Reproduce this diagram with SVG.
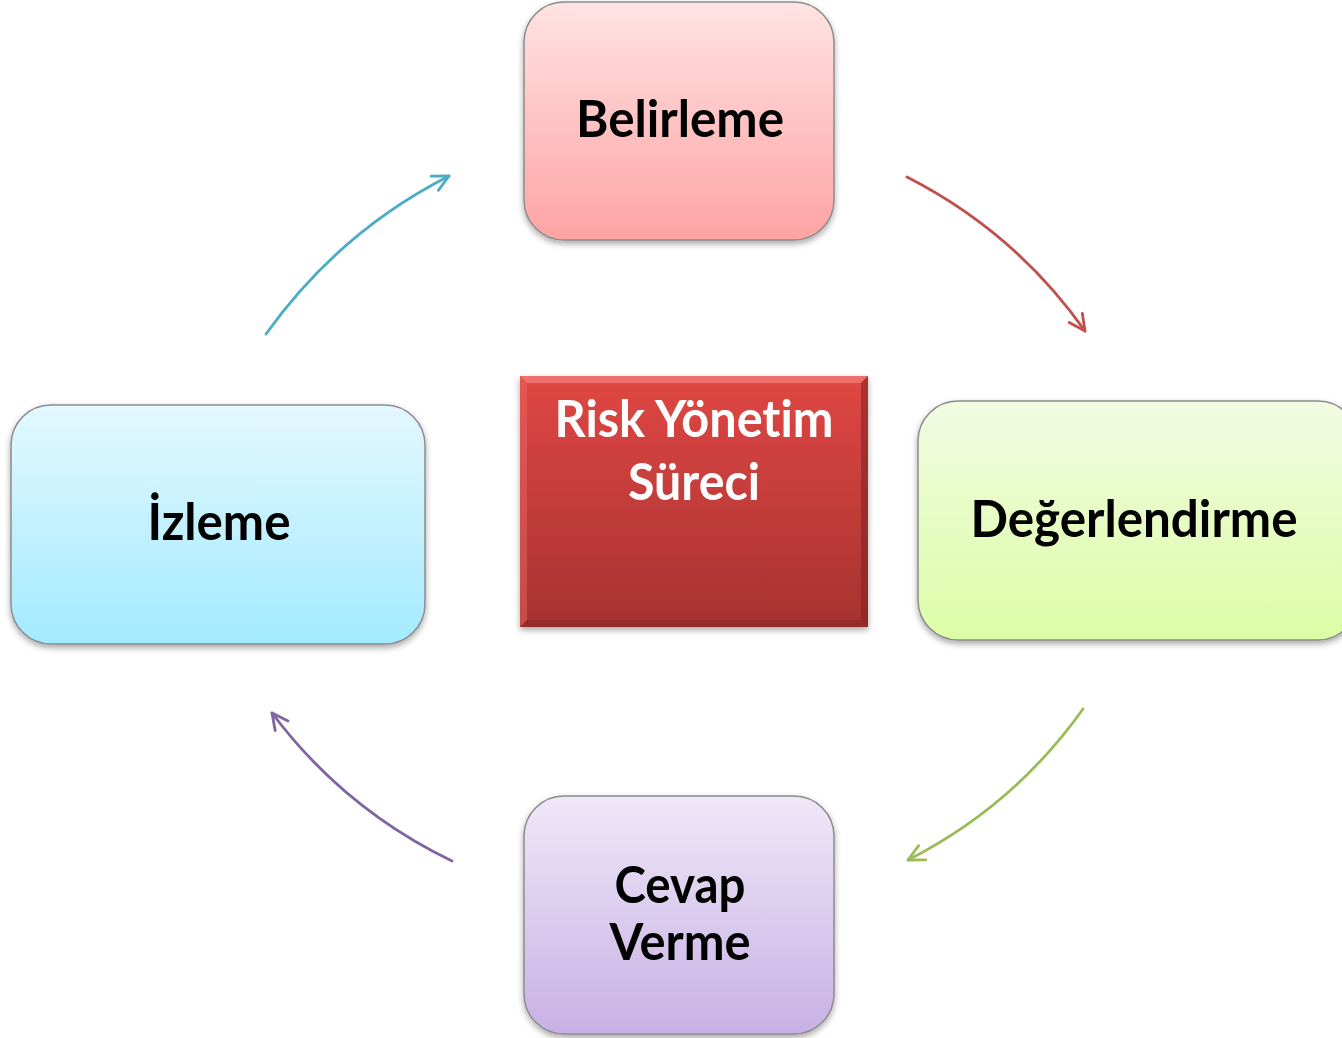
<svg xmlns="http://www.w3.org/2000/svg" width="1342" height="1038" viewBox="0 0 1342 1038">
  <style>
    .lbl { font-family: Lato, "Open Sans", "DejaVu Sans", sans-serif; font-weight: 700; font-size: 52px; fill: #000; text-anchor: middle; font-variant-ligatures: none; font-feature-settings: "liga" 0; }
    .lbl-w { fill: #fff; }
    .box { stroke: #8c8c8c; stroke-width: 1.5; filter: url(#shadow); }
    .link { fill: none; stroke-width: 2.8; stroke-linecap: round; }
  </style>
  <defs>
    <filter id="shadow" x="-10%" y="-10%" width="120%" height="125%">
      <feDropShadow dx="0" dy="3" stdDeviation="3" flood-color="#000" flood-opacity="0.35"/>
    </filter>
    <linearGradient id="gPink" x1="0" y1="0" x2="0" y2="1">
      <stop offset="0" stop-color="#ffe3e3"/>
      <stop offset="1" stop-color="#ffa3a3"/>
    </linearGradient>
    <linearGradient id="gGreen" x1="0" y1="0" x2="0" y2="1">
      <stop offset="0" stop-color="#f1fbe2"/>
      <stop offset="1" stop-color="#dcfda6"/>
    </linearGradient>
    <linearGradient id="gBlue" x1="0" y1="0" x2="0" y2="1">
      <stop offset="0" stop-color="#e4f8ff"/>
      <stop offset="1" stop-color="#a3eaff"/>
    </linearGradient>
    <linearGradient id="gPurple" x1="0" y1="0" x2="0" y2="1">
      <stop offset="0" stop-color="#efe8f8"/>
      <stop offset="1" stop-color="#c8b0e4"/>
    </linearGradient>
    <linearGradient id="gRed" x1="0" y1="0" x2="0" y2="1">
      <stop offset="0" stop-color="#e04744"/>
      <stop offset="1" stop-color="#a63230"/>
    </linearGradient>
    <marker id="headBlue" viewBox="0 0 20 20" refX="18" refY="10" markerWidth="20" markerHeight="20" markerUnits="userSpaceOnUse" orient="auto">
      <path d="M2,2 L18,10 L2,18" fill="none" stroke="#4bacc6" stroke-width="2.8" stroke-linecap="round" stroke-linejoin="round"/>
    </marker>
    <marker id="headRed" viewBox="0 0 20 20" refX="18" refY="10" markerWidth="20" markerHeight="20" markerUnits="userSpaceOnUse" orient="auto">
      <path d="M2,2 L18,10 L2,18" fill="none" stroke="#c0504d" stroke-width="2.8" stroke-linecap="round" stroke-linejoin="round"/>
    </marker>
    <marker id="headGreen" viewBox="0 0 20 20" refX="18" refY="10" markerWidth="20" markerHeight="20" markerUnits="userSpaceOnUse" orient="auto">
      <path d="M2,2 L18,10 L2,18" fill="none" stroke="#9bbb59" stroke-width="2.8" stroke-linecap="round" stroke-linejoin="round"/>
    </marker>
    <marker id="headPurple" viewBox="0 0 20 20" refX="18" refY="10" markerWidth="20" markerHeight="20" markerUnits="userSpaceOnUse" orient="auto">
      <path d="M2,2 L18,10 L2,18" fill="none" stroke="#8064a2" stroke-width="2.8" stroke-linecap="round" stroke-linejoin="round"/>
    </marker>
  </defs>

  <rect width="1342" height="1038" fill="#fff"/>

  <!-- cycle connectors -->
  <g id="connectors">
    <path class="link" stroke="#4bacc6" marker-end="url(#headBlue)" d="M266,334 Q339,232 449,176"/>
    <path class="link" stroke="#c0504d" marker-end="url(#headRed)" d="M907,177 Q1015,232 1085,331"/>
    <path class="link" stroke="#9bbb59" marker-end="url(#headGreen)" d="M1083,709 Q1014,806 908,860"/>
    <path class="link" stroke="#8064a2" marker-end="url(#headPurple)" d="M452,861 Q344,809 272,713"/>
  </g>

  <!-- centre box with bevelled edges -->
  <g id="node-center">
    <rect x="520" y="376" width="348" height="251" fill="url(#gRed)" filter="url(#shadow)"/>
    <polygon points="520,376 868,376 861,383 527,383" fill="#f07a76" opacity="0.8"/>
    <polygon points="868,376 868,627 861,620 861,383" fill="#7e2220" opacity="0.55"/>
    <polygon points="520,627 868,627 861,620 527,620" fill="#7e2220" opacity="0.45"/>
    <polygon points="520,376 527,383 527,620 520,627" fill="#e86560" opacity="0.5"/>
    <text class="lbl lbl-w" x="694" y="437" textLength="279" lengthAdjust="spacingAndGlyphs">Risk Yönetim</text>
    <text class="lbl lbl-w" x="694" y="500" textLength="132" lengthAdjust="spacingAndGlyphs">Süreci</text>
  </g>

  <g id="node-belirleme">
    <rect class="box" x="524" y="2" width="310" height="238" rx="40" fill="url(#gPink)"/>
    <text class="lbl" x="680" y="137" textLength="208" lengthAdjust="spacingAndGlyphs">Belirleme</text>
  </g>

  <g id="node-degerlendirme">
    <rect class="box" x="918" y="401" width="440" height="239" rx="40" fill="url(#gGreen)"/>
    <text class="lbl" x="1134" y="537" textLength="327" lengthAdjust="spacingAndGlyphs">Değerlendirme</text>
  </g>

  <g id="node-cevap">
    <rect class="box" x="524" y="796" width="310" height="238" rx="40" fill="url(#gPurple)"/>
    <text class="lbl" x="680" y="903" textLength="131" lengthAdjust="spacingAndGlyphs">Cevap</text>
    <text class="lbl" x="680" y="960" textLength="141" lengthAdjust="spacingAndGlyphs">Verme</text>
  </g>

  <g id="node-izleme">
    <rect class="box" x="11" y="405" width="414" height="239" rx="40" fill="url(#gBlue)"/>
    <text class="lbl" x="219" y="540" textLength="143" lengthAdjust="spacingAndGlyphs">İzleme</text>
  </g>
</svg>
